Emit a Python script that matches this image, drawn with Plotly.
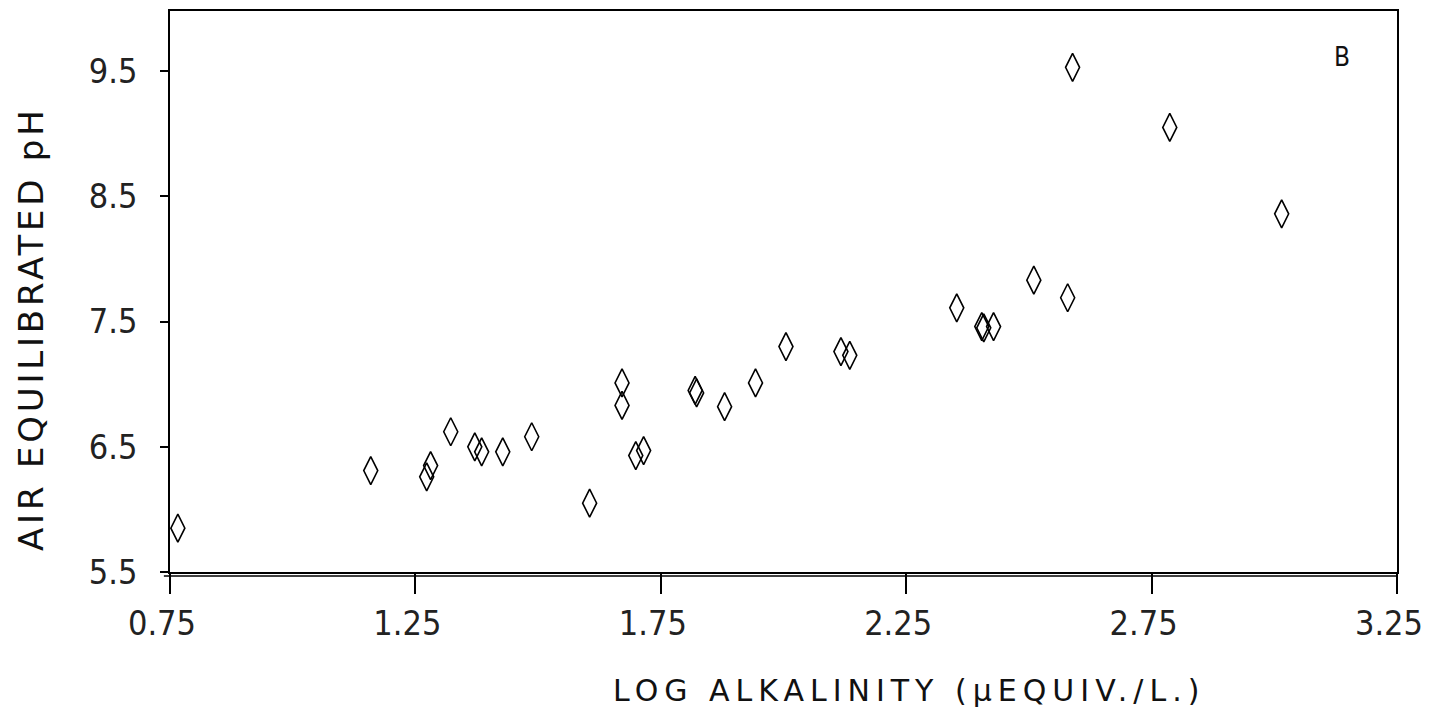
import plotly.graph_objects as go

log_alkalinity = [0.766, 1.159, 1.273, 1.281, 1.322, 1.371, 1.385, 1.428, 1.487,
                  1.605, 1.671, 1.671, 1.699, 1.715, 1.820, 1.823, 1.880, 1.943,
                  2.005, 2.117, 2.135, 2.353, 2.404, 2.408, 2.428, 2.510, 2.579,
                  2.589, 2.787, 3.015]
air_ph = [5.85, 6.31, 6.26, 6.35, 6.62, 6.50, 6.46, 6.46, 6.58,
          6.05, 7.01, 6.83, 6.43, 6.47, 6.95, 6.93, 6.82, 7.01,
          7.30, 7.26, 7.23, 7.61, 7.46, 7.45, 7.46, 7.83, 7.69,
          9.53, 9.05, 8.36]

x_ticks = [0.75, 1.25, 1.75, 2.25, 2.75, 3.25]
x_tick_labels = ["0.75", "1.25", "1.75", "2.25", "2.75", "3.25"]
y_ticks = [5.5, 6.5, 7.5, 8.5, 9.5]
y_tick_labels = ["5.5", "6.5", "7.5", "8.5", "9.5"]

fig = go.Figure()
fig.add_trace(go.Scatter(
    x=log_alkalinity, y=air_ph, mode="markers",
    marker=dict(symbol="diamond-tall-open", size=20, color="black",
                line=dict(color="black", width=1.6)),
    showlegend=False, cliponaxis=False,
))

tick_font = dict(family="DejaVu Sans Condensed, Liberation Sans Narrow, sans-serif",
                 size=34, color="#222")

# figure is shifted by the 8px page margin: plot area spans x 162..1389, y 3..564
W, H = 1420, 703
L, R, T, B = 162, 1420 - 1389, 3, 703 - 564
pw, ph = W - L - R, H - T - B

fig.update_layout(
    width=W, height=H,
    margin=dict(l=L, r=R, t=T, b=B, autoexpand=False),
    paper_bgcolor="white", plot_bgcolor="white",
    xaxis=dict(range=[0.75, 3.25], tickvals=x_ticks, ticktext=x_tick_labels,
               ticks="outside", ticklen=20, tickwidth=1.5, tickcolor="black",
               showline=True, linecolor="black", linewidth=1.5, mirror=True,
               showgrid=False, zeroline=False, tickfont=tick_font,
               ticklabeloverflow="allow", ticklabelshift=-8, automargin=False),
    yaxis=dict(range=[5.5, 9.98], tickvals=y_ticks, ticktext=y_tick_labels,
               ticks="outside", ticklen=8, tickwidth=1.5, tickcolor="black",
               showline=True, linecolor="black", linewidth=1.5, mirror=True,
               showgrid=False, zeroline=False, tickfont=tick_font,
               ticklabelstandoff=16, automargin=False),
    shapes=[dict(type="line", xref="paper", yref="paper", x0=-0.005, x1=1.0,
                 y0=-4 / ph, y1=-4 / ph, line=dict(color="black", width=1.5))],
    annotations=[
        dict(text='<span style="letter-spacing:3.8px">AIR EQUILIBRATED pH</span>',
             xref="paper", yref="paper",
             x=(31 - 170) / pw, y=(572 - 329) / ph, xanchor="center", yanchor="middle",
             textangle=-90, showarrow=False,
             font=dict(family="DejaVu Sans, sans-serif", size=34, color="#111")),
        dict(text='<span style="letter-spacing:6px">LOG ALKALINITY (µEQUIV./L.)</span>',
             xref="paper", yref="paper",
             x=(909 - 170) / pw, y=(572 - 690) / ph, xanchor="center", yanchor="middle",
             showarrow=False,
             font=dict(family="DejaVu Sans, sans-serif", size=30, color="#111")),
        dict(text="B", xref="paper", yref="paper",
             x=(1342 - 170) / pw, y=(572 - 57) / ph, xanchor="center", yanchor="middle",
             showarrow=False,
             font=dict(family="DejaVu Sans Condensed, sans-serif", size=26, color="#111")),
    ],
)

fig.write_html("out.html")
